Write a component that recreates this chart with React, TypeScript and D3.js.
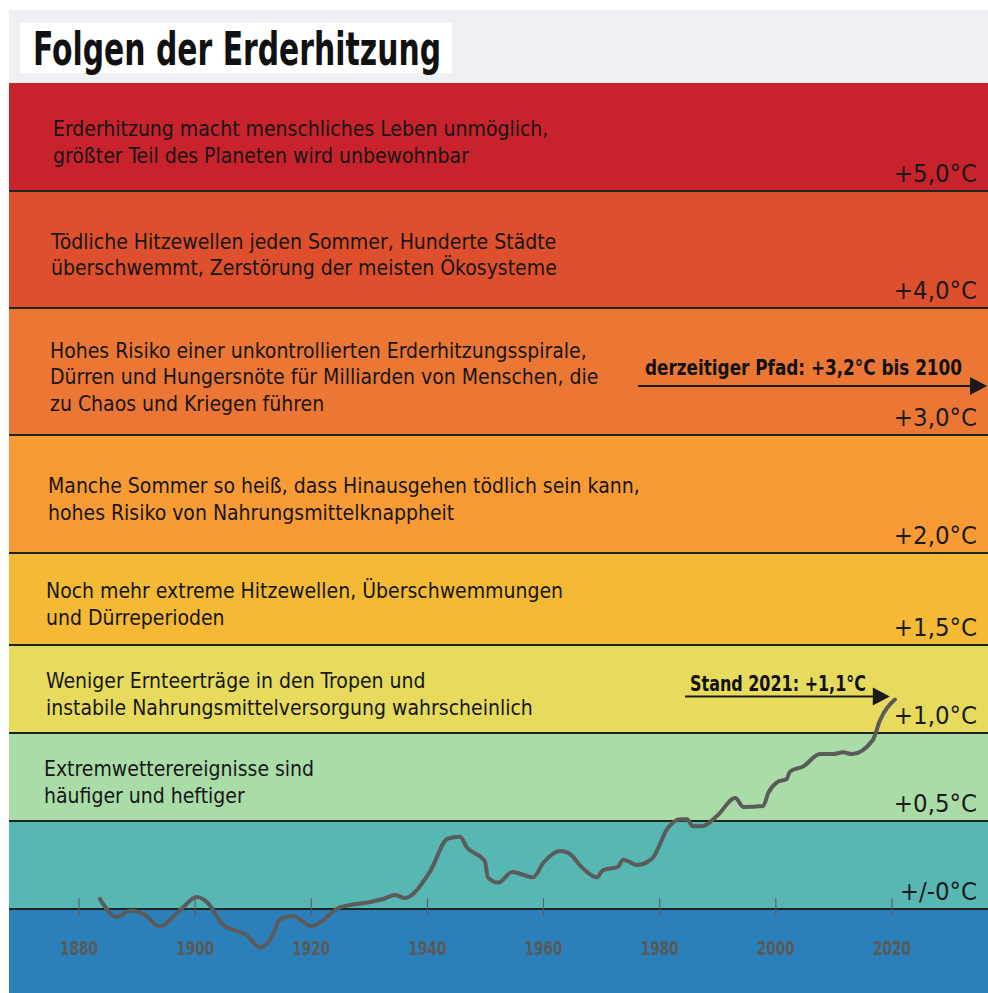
import React from "react";
import * as d3 from "d3";

// ---------- data ----------
const title = "Folgen der Erderhitzung";

// band boundaries (°C), top to bottom; band i lies between bandUpper[i] and bandLower[i]
const bandUpper = [5.92, 5, 4, 3, 2, 1.5, 1, 0.5, 0];
const bandLower = [5, 4, 3, 2, 1.5, 1, 0.5, 0, -0.48];
const bandColors = ["#c8232c", "#de4f2d", "#ec7734", "#f89b34", "#f4b935", "#e6db5d", "#a9dca6", "#57b7b3", "#2c80b9"];
const bandTexts: string[][] = [
  ["Erderhitzung macht menschliches Leben unmöglich,", "größter Teil des Planeten wird unbewohnbar"],
  ["Tödliche Hitzewellen jeden Sommer, Hunderte Städte", "überschwemmt, Zerstörung der meisten Ökosysteme"],
  ["Hohes Risiko einer unkontrollierten Erderhitzungsspirale,", "Dürren und Hungersnöte für Milliarden von Menschen, die", "zu Chaos und Kriegen führen"],
  ["Manche Sommer so heiß, dass Hinausgehen tödlich sein kann,", "hohes Risiko von Nahrungsmittelknappheit"],
  ["Noch mehr extreme Hitzewellen, Überschwemmungen", "und Dürreperioden"],
  ["Weniger Ernteerträge in den Tropen und", "instabile Nahrungsmittelversorgung wahrscheinlich"],
  ["Extremwetterereignisse sind", "häufiger und heftiger"],
  [],
  [],
];

const thresholdValues = [5, 4, 3, 2, 1.5, 1, 0.5, 0];
const thresholdLabels = ["+5,0°C", "+4,0°C", "+3,0°C", "+2,0°C", "+1,5°C", "+1,0°C", "+0,5°C", "+/-0°C"];

const xTicks = [1880, 1900, 1920, 1940, 1960, 1980, 2000, 2020];

const years = [
  1883.6, 1886.5, 1888.8, 1891.4, 1893.8, 1897.4, 1900.3, 1902.2, 1904.8, 1908.9,
  1911.2, 1913.2, 1914.6, 1916.9, 1920.0, 1925.0, 1930.1, 1932.4, 1934.4, 1936.1,
  1940.4, 1943.5, 1945.6, 1946.8, 1949.9, 1950.4, 1952.2, 1954.6, 1958.2, 1959.9,
  1962.8, 1964.2, 1966.8, 1969.2, 1970.2, 1972.8, 1973.7, 1976.1, 1978.0, 1978.8,
  1981.4, 1983.5, 1984.7, 1985.7, 1987.3, 1989.9, 1993.0, 1994.4, 1997.8, 1998.7,
  2000.2, 2001.9, 2002.4, 2004.7, 2007.6, 2009.8, 2011.6, 2013.1, 2016.7, 2017.9,
  2020.5,
];
const anomalies = [
  0.057, -0.045, -0.01, -0.034, -0.1, -0.006, 0.068, 0.034, -0.09, -0.15,
  -0.22, -0.16, -0.06, -0.04, -0.097, 0.01, 0.04, 0.057, 0.08, 0.063,
  0.21, 0.4, 0.41, 0.35, 0.27, 0.18, 0.15, 0.21, 0.18, 0.26,
  0.33, 0.32, 0.23, 0.18, 0.22, 0.24, 0.28, 0.25, 0.27, 0.29,
  0.46, 0.51, 0.51, 0.47, 0.47, 0.53, 0.63, 0.58, 0.585, 0.66,
  0.72, 0.74, 0.78, 0.81, 0.88, 0.88, 0.89, 0.88, 0.96, 1.07,
  1.19,
];

const pathNote = "derzeitiger Pfad: +3,2°C bis 2100";
const standNote = "Stand 2021: +1,1°C";
const standYear = 2021;

// ---------- layout ----------
const W = 988;
const H = 993;
const LEFT = 9;
const COND = "'DejaVu Sans Condensed', 'Liberation Sans', sans-serif";

const yScale = d3
  .scaleLinear()
  .domain([-0.48, 0, 1.5, 2, 3, 4, 5, 5.92])
  .range([993, 909, 645, 553, 435, 308, 191, 83]);
const xScale = d3.scaleLinear().domain([1880, 2020]).range([79, 892]);

const textX = [53, 51, 50, 48, 46, 46, 44, 44, 44];

export default function App() {
  const pts = years.map((y, i) => [y, anomalies[i]] as [number, number]);
  const line = d3
    .line<[number, number]>()
    .x((d) => xScale(d[0]))
    .y((d) => yScale(d[1]))
    .curve(d3.curveMonotoneX);

  const zeroY = yScale(0);
  const standTipX = xScale(standYear) - 8;
  const standY = yScale(anomalies[anomalies.length - 1]) - 3;
  const pathY = yScale(3) - 49;

  return (
    <svg width={W} height={H} style={{ position: "absolute", left: 0, top: 0, display: "block" }}>
      <rect x={0} y={0} width={W} height={H} fill="#ffffff" />
      <rect x={LEFT} y={10} width={W - LEFT} height={yScale(5.92) - 10} fill="#eff0f4" />
      <rect x={20} y={23} width={432} height={50} fill="#ffffff" />
      <text
        x={33}
        y={65}
        fontFamily={COND}
        fontWeight="bold"
        fontSize={47}
        fill="#111"
        textLength={408}
        lengthAdjust="spacingAndGlyphs"
      >
        {title}
      </text>

      {bandColors.map((c, i) => {
        const y0 = yScale(bandUpper[i]);
        const y1 = yScale(bandLower[i]);
        return <rect key={"b" + i} x={LEFT} y={y0} width={W - LEFT} height={y1 - y0} fill={c} />;
      })}

      {thresholdValues.map((v, i) => (
        <line
          key={"s" + i}
          x1={LEFT}
          x2={W}
          y1={yScale(v)}
          y2={yScale(v)}
          stroke="#1d2424"
          strokeWidth={2}
        />
      ))}

      {bandTexts.map((lines, i) => {
        if (!lines.length) return null;
        const cy = (yScale(bandUpper[i]) + yScale(bandLower[i])) / 2;
        const first = cy - (lines.length - 1) * 13 + 12;
        return (
          <text key={"t" + i} fontFamily={COND} fontSize={21} fill="#161616">
            {lines.map((l, j) => (
              <tspan key={j} x={textX[i]} y={first + j * 26.5}>
                {l}
              </tspan>
            ))}
          </text>
        );
      })}

      {thresholdValues.map((v, i) => (
        <text
          key={"l" + i}
          x={977}
          y={yScale(v) - 9}
          textAnchor="end"
          fontFamily={COND}
          fontSize={25.5}
          fill="#1a1a1a"
        >
          {thresholdLabels[i]}
        </text>
      ))}

      {/* x axis */}
      {xTicks.map((t) => (
        <g key={"x" + t}>
          <line x1={xScale(t)} x2={xScale(t)} y1={zeroY - 11} y2={zeroY + 7} stroke="#5a5a5a" strokeWidth={1} />
          <text
            x={xScale(t)}
            y={zeroY + 46}
            textAnchor="middle"
            fontFamily={COND}
            fontWeight="bold"
            fontSize={19}
            fill="#5a5a5a"
            textLength={38}
            lengthAdjust="spacingAndGlyphs"
          >
            {t}
          </text>
        </g>
      ))}

      <path d={line(pts) || ""} fill="none" stroke="#5b5b5b" strokeWidth={4} strokeLinejoin="round" strokeLinecap="round" />

      {/* current path annotation */}
      <text
        x={645}
        y={pathY - 11}
        fontFamily={COND}
        fontWeight="bold"
        fontSize={21}
        fill="#111"
        textLength={317}
        lengthAdjust="spacingAndGlyphs"
      >
        {pathNote}
      </text>
      <line x1={638} x2={972} y1={pathY} y2={pathY} stroke="#1a1a1a" strokeWidth={2} />
      <path d={`M970,${pathY - 9} L987,${pathY} L970,${pathY + 9} Z`} fill="#1a1a1a" />

      {/* Stand 2021 annotation */}
      <text
        x={690}
        y={standY - 6}
        fontFamily={COND}
        fontWeight="bold"
        fontSize={21}
        fill="#111"
        textLength={176}
        lengthAdjust="spacingAndGlyphs"
      >
        {standNote}
      </text>
      <line x1={685} x2={standTipX - 15} y1={standY} y2={standY} stroke="#1a1a1a" strokeWidth={2} />
      <path
        d={`M${standTipX - 17},${standY - 9} L${standTipX},${standY} L${standTipX - 17},${standY + 9} Z`}
        fill="#1a1a1a"
      />
    </svg>
  );
}
